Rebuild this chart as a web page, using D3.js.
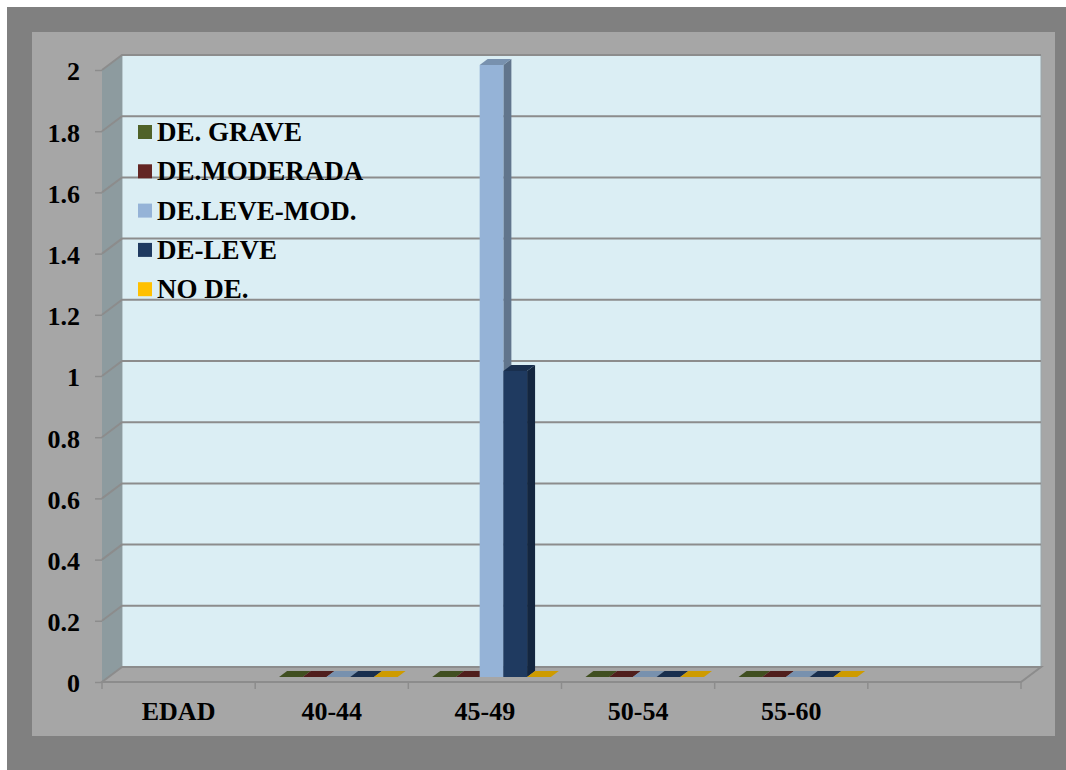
<!DOCTYPE html>
<html>
<head>
<meta charset="utf-8">
<script src="https://cdn.jsdelivr.net/npm/d3@7"></script>
<style>
  body { margin: 0; background: #fff; }
  svg text { font-family: "Liberation Serif", "Times New Roman", Times, serif; font-weight: bold; font-size: 26px; fill: #000; }
  svg .legend text { font-size: 27px; }
</style>
</head>
<body>
<div class="chart"></div>
<script>
// data
var categories = ["EDAD", "40-44", "45-49", "50-54", "55-60", ""];
var series = ["DE. GRAVE", "DE.MODERADA", "DE.LEVE-MOD.", "DE-LEVE", "NO DE."];
var colors = ["#4f6228", "#632523", "#95b3d7", "#1f3a60", "#ffc000"];
var deGrave    = [null, 0, 0, 0, 0, null];
var deModerada = [null, 0, 0, 0, 0, null];
var deLeveMod  = [null, 0, 2, 0, 0, null];
var deLeve     = [null, 0, 1, 0, 0, null];
var noDe       = [null, 0, 0, 0, 0, null];
var yTicks = [0, 0.2, 0.4, 0.6, 0.8, 1, 1.2, 1.4, 1.6, 1.8, 2];

var seriesValues = [deGrave, deModerada, deLeveMod, deLeve, noDe];

var W = 1066, H = 770;
var DX = 20, DY = 15;           // depth of the floor / walls
var zFront = 0.33, zBack = 0.73; // depth of the bars inside the floor

var svg = d3.select(".chart").append("svg")
    .attr("width", W).attr("height", H);

svg.append("rect").attr("x", 7).attr("y", 7).attr("width", W - 7).attr("height", H - 7)
    .attr("fill", "#808080");
svg.append("rect").attr("x", 32).attr("y", 32).attr("width", 1023).attr("height", 704)
    .attr("fill", "#a6a6a6");

var x = d3.scaleBand().domain(categories).range([102, 1021]).padding(0);
var y = d3.scaleLinear().domain([0, 2]).range([682, 70]);
var xs = d3.scaleBand().domain(series).range([0, x.bandwidth()])
    .paddingInner(0).paddingOuter(0.73);

function proj(px, v, z) { return [px + z * DX, y(v) - z * DY]; }
function poly(pts) { return "M" + pts.map(function(p) { return p.join(","); }).join("L") + "Z"; }

var x0 = x.range()[0], x1 = x.range()[1];

// back wall
svg.append("path")
    .attr("d", poly([proj(x0, 2, 1), proj(x1, 2, 1), proj(x1, 0, 1), proj(x0, 0, 1)]))
    .attr("fill", "#dbeef4").attr("stroke", "#9aa6aa").attr("stroke-width", 1);

// left wall
svg.append("path")
    .attr("d", poly([proj(x0, 2, 0), proj(x0, 2, 1), proj(x0, 0, 1), proj(x0, 0, 0)]))
    .attr("fill", "#8d9b9f");

// floor
svg.append("path")
    .attr("d", poly([proj(x0, 0, 0), proj(x1, 0, 0), proj(x1, 0, 1), proj(x0, 0, 1)]))
    .attr("fill", "#a6a6a6").attr("stroke", "#8c8c8c").attr("stroke-width", 2);

// grid lines
var grid = svg.append("g");
yTicks.forEach(function(t) {
  if (t === 0) return;
  grid.append("path")
      .attr("d", "M" + proj(x0, t, 0).join(",") + "L" + proj(x0, t, 1).join(",") + "L" + proj(x1, t, 1).join(","))
      .attr("fill", "none").attr("stroke", "#8c8c8c").attr("stroke-width", 2);
});

// y axis
var yAxis = svg.append("g")
    .attr("transform", "translate(" + x0 + ",0)")
    .call(d3.axisLeft(y).tickValues(yTicks).tickSize(7).tickPadding(15).tickFormat(d3.format(".1~f")));
yAxis.attr("font-family", null).attr("font-size", null);
yAxis.select(".domain").remove();
yAxis.selectAll("line").attr("stroke", "#8c8c8c").attr("stroke-width", 1.5);
yAxis.selectAll("text").attr("fill", "#000").attr("dy", "0.38em");

// x axis ticks on boundaries
var bounds = categories.map(function(c) { return x(c); }).concat([x1]);
svg.selectAll(".xtick").data(bounds).enter().append("line")
    .attr("x1", function(d) { return d; }).attr("x2", function(d) { return d; })
    .attr("y1", y(0)).attr("y2", y(0) + 7)
    .attr("stroke", "#8c8c8c").attr("stroke-width", 1.5);

var xAxis = svg.append("g")
    .attr("transform", "translate(0," + y(0) + ")")
    .call(d3.axisBottom(x).tickSize(0).tickPadding(20));
xAxis.attr("font-family", null).attr("font-size", null);
xAxis.select(".domain").remove();
xAxis.selectAll("text").attr("fill", "#000").attr("dy", "0.71em");

// bars
var bars = svg.append("g");
categories.forEach(function(c, ci) {
  series.forEach(function(s, si) {
    var v = seriesValues[si][ci];
    if (v === null) return;
    var bl = x(c) + xs(s), br = bl + xs.bandwidth();
    var col = d3.color(colors[si]);
    var g = bars.append("g");
    // side
    g.append("path")
        .attr("d", poly([proj(br, 0, zFront), proj(br, 0, zBack), proj(br, v, zBack), proj(br, v, zFront)]))
        .attr("fill", col.darker(1.2));
    // front
    g.append("path")
        .attr("d", poly([proj(bl, 0, zFront), proj(br, 0, zFront), proj(br, v, zFront), proj(bl, v, zFront)]))
        .attr("fill", col);
    // top
    g.append("path")
        .attr("d", poly([proj(bl, v, zFront), proj(br, v, zFront), proj(br, v, zBack), proj(bl, v, zBack)]))
        .attr("fill", col.darker(0.6));
  });
});

// legend
var legend = svg.append("g").attr("class", "legend").attr("transform", "translate(138,132)");
series.forEach(function(s, i) {
  var row = legend.append("g").attr("transform", "translate(0," + (i * 39.3) + ")");
  row.append("rect").attr("x", 0).attr("y", -7).attr("width", 14).attr("height", 14)
      .attr("fill", colors[i]);
  row.append("text").attr("x", 19).attr("y", 9).text(s);
});
</script>
</body>
</html>
